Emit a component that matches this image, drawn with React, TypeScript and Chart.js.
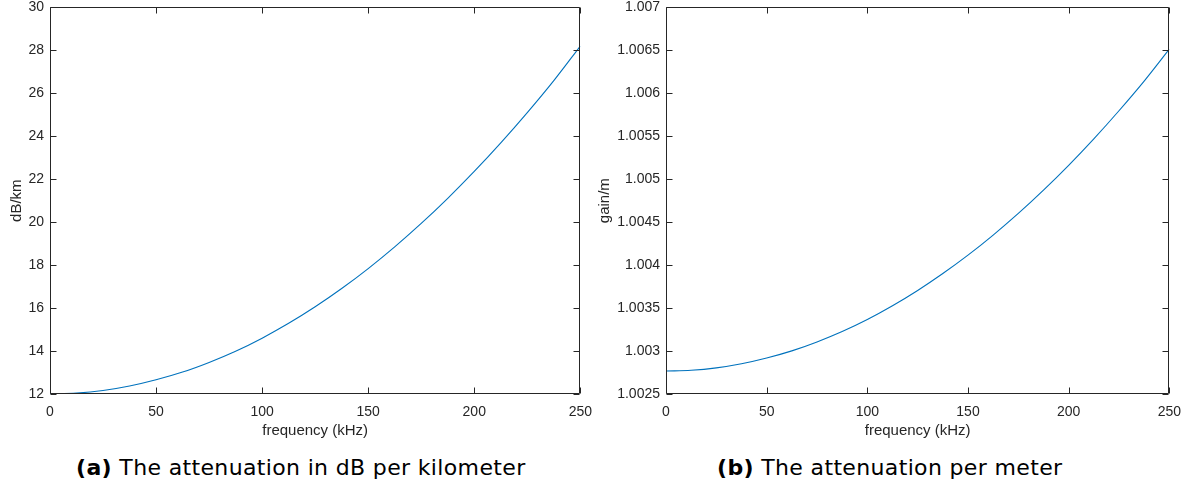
import React, { useEffect, useRef } from "react";
import { Chart, registerables } from "chart.js";

Chart.register(...registerables);

const freqKHz = [0, 12.5, 25, 37.5, 50, 62.5, 75, 87.5, 100, 112.5, 125, 137.5, 150, 162.5, 175, 187.5, 200, 212.5, 225, 237.5, 250];
const attenuationDbPerKm = [12.0, 12.04, 12.16, 12.37, 12.66, 13.02, 13.47, 13.99, 14.6, 15.29, 16.06, 16.91, 17.84, 18.85, 19.94, 21.11, 22.36, 23.69, 25.1, 26.59, 28.2];
const gainPerMeter = [1.002767, 1.002776, 1.002804, 1.002852, 1.002919, 1.003002, 1.003106, 1.003227, 1.003367, 1.003527, 1.003705, 1.003902, 1.004116, 1.00435, 1.004602, 1.004873, 1.005162, 1.00547, 1.005797, 1.006142, 1.006514];

const xTickStep = 50;
const leftYRange = [12, 30];
const leftYStep = 2;
const rightYRange = [1.0025, 1.007];
const rightYStep = 0.0005;

const xTitle = "frequency (kHz)";
const leftYTitle = "dB/km";
const rightYTitle = "gain/m";
const captionA = ["(a)", "The attenuation in dB per kilometer"];
const captionB = ["(b)", "The attenuation per meter"];

const AXIS_COLOR = "#262626";
const LINE_COLOR = "#0072BD";
const FONT = "'Liberation Sans', Arial, Helvetica, sans-serif";
const CAPTION_FONT = "'DejaVu Sans', 'Liberation Sans', sans-serif";

const CANVAS_TOP = -7;
const CANVAS_H = 445;

const boxTicks = {
  id: "boxTicks",
  afterDraw(chart: any) {
    const { ctx, chartArea } = chart;
    const { left, right, top, bottom } = chartArea;
    const xs = chart.scales.x;
    const ys = chart.scales.y;
    const L = Math.round(left) + 0.5;
    const R = Math.round(right) - 0.5;
    const T = Math.round(top) + 0.5;
    const B = Math.round(bottom) - 0.5;
    const len = 6;
    ctx.save();
    ctx.strokeStyle = AXIS_COLOR;
    ctx.lineWidth = 1;
    ctx.beginPath();
    ctx.rect(L, T, R - L, B - T);
    ctx.stroke();
    ctx.beginPath();
    xs.ticks.forEach((t: any) => {
      const p = Math.round(xs.getPixelForValue(t.value)) + 0.5;
      ctx.moveTo(p, B);
      ctx.lineTo(p, B - len);
      ctx.moveTo(p, T);
      ctx.lineTo(p, T + len);
    });
    ys.ticks.forEach((t: any) => {
      const p = Math.round(ys.getPixelForValue(t.value)) + 0.5;
      ctx.moveTo(L, p);
      ctx.lineTo(L + len, p);
      ctx.moveTo(R, p);
      ctx.lineTo(R - len, p);
    });
    ctx.stroke();
    ctx.restore();
  },
};

function makeConfig(
  values: number[],
  yRange: number[],
  yStep: number,
  yTitle: string,
  yWidth: number,
  yTitlePad: number,
  fmt: (v: number) => string
): any {
  return {
    type: "line",
    data: {
      datasets: [
        {
          data: freqKHz.map((f, i) => ({ x: f, y: values[i] })),
          borderColor: LINE_COLOR,
          borderWidth: 1.1,
          pointRadius: 0,
          fill: false,
          cubicInterpolationMode: "monotone",
        },
      ],
    },
    options: {
      responsive: false,
      animation: false,
      layout: { padding: { left: 0, right: 4, top: 0, bottom: 0 } },
      plugins: { legend: { display: false }, tooltip: { enabled: false } },
      scales: {
        x: {
          type: "linear",
          min: 0,
          max: 250,
          grid: { display: false, drawTicks: false },
          border: { display: false },
          ticks: {
            stepSize: xTickStep,
            padding: 10,
            color: AXIS_COLOR,
            font: { family: FONT, size: 14 },
            maxRotation: 0,
          },
          title: {
            display: true,
            text: xTitle,
            color: AXIS_COLOR,
            font: { family: FONT, size: 15 },
            padding: { top: 0, bottom: -2 },
          },
          afterFit: (s: any) => {
            s.height = 44;
          },
        },
        y: {
          type: "linear",
          min: yRange[0],
          max: yRange[1],
          grid: { display: false, drawTicks: false },
          border: { display: false },
          ticks: {
            stepSize: yStep,
            padding: 6,
            color: AXIS_COLOR,
            font: { family: FONT, size: 14 },
            callback: (v: any) => fmt(Number(v)),
          },
          title: {
            display: true,
            text: yTitle,
            color: AXIS_COLOR,
            font: { family: FONT, size: 15 },
            padding: { top: yTitlePad, bottom: 0 },
          },
          afterFit: (s: any) => {
            s.width = yWidth;
          },
        },
      },
    },
    plugins: [boxTicks],
  };
}

function Plot(props: { cfg: any; left: number; width: number }) {
  const ref = useRef<HTMLCanvasElement>(null);
  useEffect(() => {
    if (!ref.current) return;
    const chart = new Chart(ref.current, props.cfg);
    return () => chart.destroy();
  }, []);
  return (
    <div style={{ position: "absolute", left: props.left, top: CANVAS_TOP, width: props.width, height: CANVAS_H }}>
      <canvas ref={ref} width={props.width} height={CANVAS_H} style={{ display: "block" }} />
    </div>
  );
}

function Caption(props: { parts: string[]; left: number }) {
  return (
    <div
      style={{
        position: "absolute",
        left: props.left,
        top: 452,
        fontFamily: CAPTION_FONT,
        fontSize: 22,
        letterSpacing: "0.35px",
        color: "#000",
        whiteSpace: "nowrap",
        lineHeight: "32px",
      }}
    >
      <b>{props.parts[0]}</b> {props.parts[1]}
    </div>
  );
}

export default function App() {
  const leftCfg = makeConfig(attenuationDbPerKm, leftYRange, leftYStep, leftYTitle, 50, 8, (v) =>
    String(Math.round(v))
  );
  const rightCfg = makeConfig(gainPerMeter, rightYRange, rightYStep, rightYTitle, 76, 6, (v) =>
    String(Number(v.toFixed(4)))
  );
  return (
    <div
      style={{
        position: "fixed",
        left: 0,
        top: 0,
        width: 1191,
        height: 488,
        background: "#fff",
        overflow: "hidden",
      }}
    >
      <Plot cfg={leftCfg} left={0} width={602} />
      <Plot cfg={rightCfg} left={590} width={601} />
      <Caption parts={captionA} left={76} />
      <Caption parts={captionB} left={717} />
    </div>
  );
}
